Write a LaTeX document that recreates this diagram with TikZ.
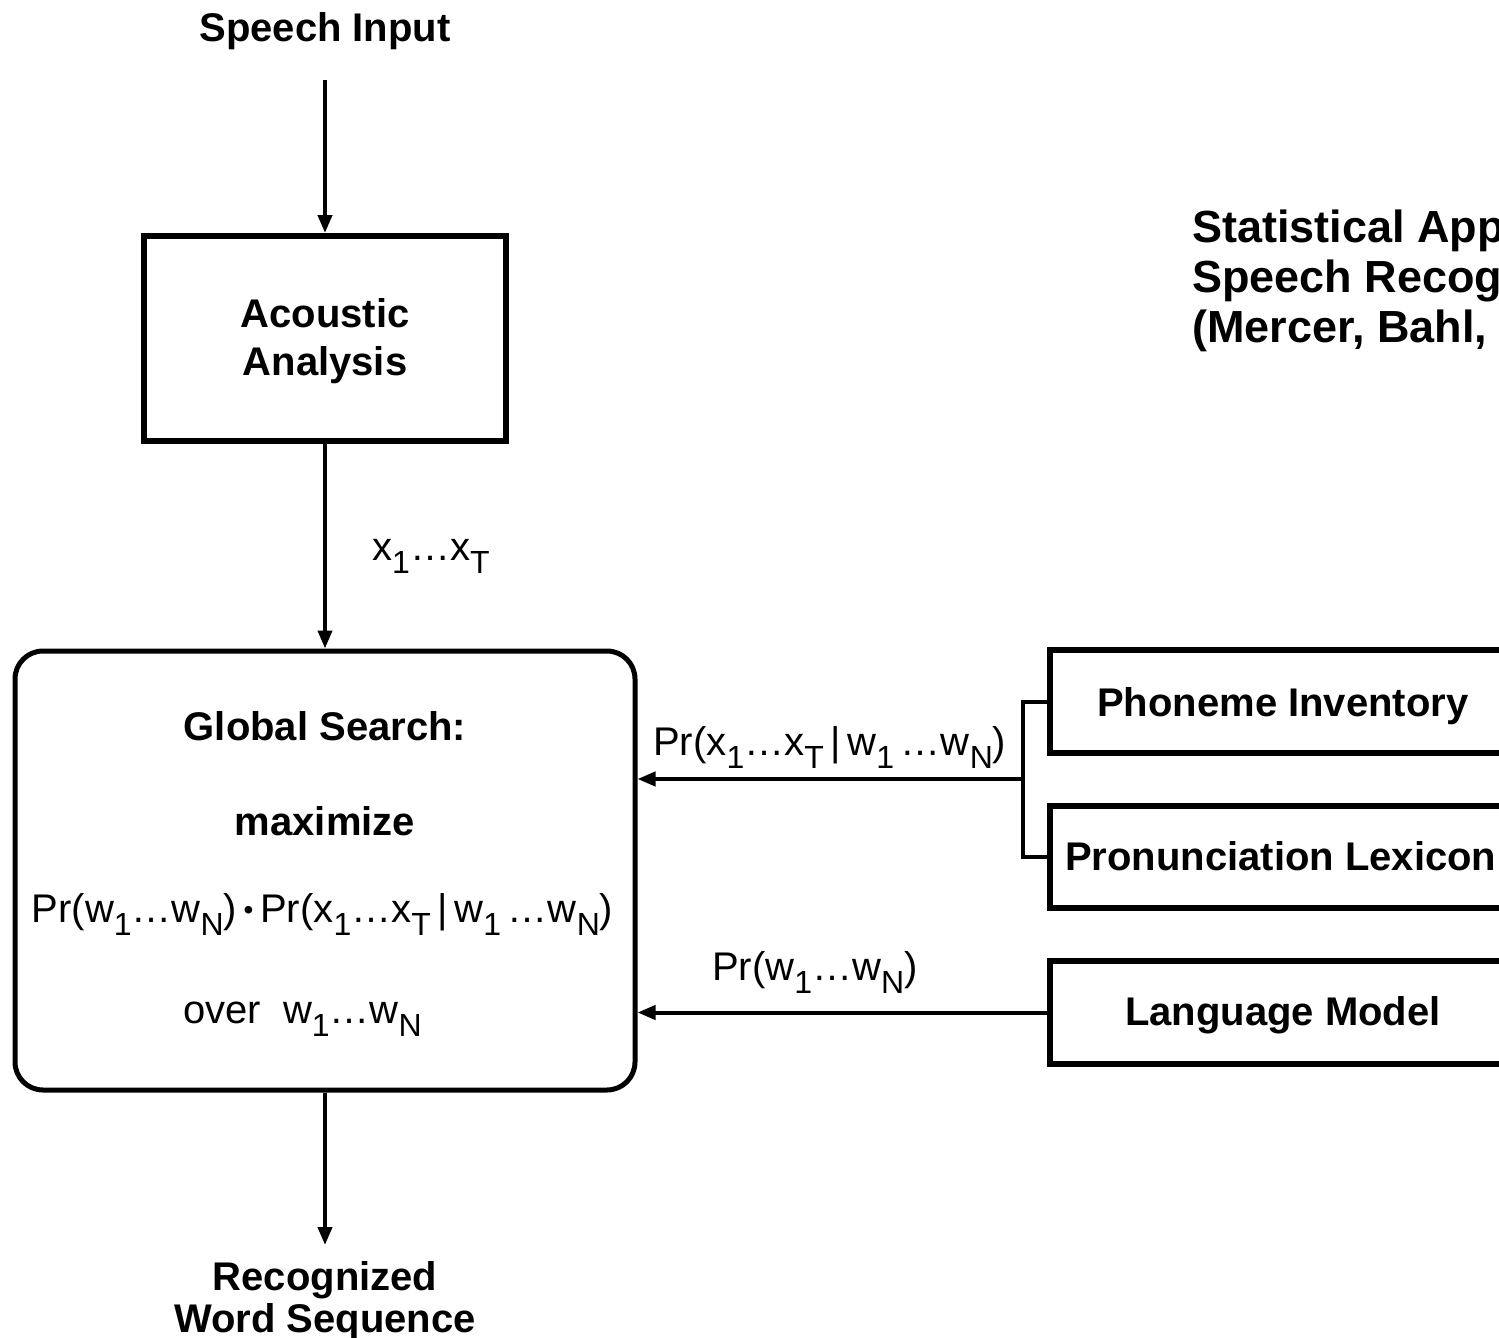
\documentclass[tikz,border=0pt]{standalone}
\usepackage{fontspec}
\setmainfont{Liberation Sans}
\usetikzlibrary{arrows.meta}
\newcommand{\sbx}[1]{\raisebox{-13pt}{\fontsize{32}{32}\selectfont #1}}
\begin{document}
\begin{tikzpicture}[x=1pt,y=-1pt,
  sbox/.style={draw, line width=6pt, inner sep=0pt},
  rbox/.style={draw, line width=5pt, rounded corners=28pt, inner sep=0pt},
  conn/.style={line width=4pt},
  arr/.style={line width=4pt, -{Triangle[length=18pt,width=14pt]}},
  bl/.style={inner sep=0pt, font=\fontsize{40}{48}\selectfont\bfseries},
  rl/.style={inner sep=0pt, font=\fontsize{40}{48}\selectfont},
  tl/.style={inner sep=0pt, anchor=base west, font=\fontsize{45}{52}\selectfont\bfseries}]
\useasboundingbox (0,0) rectangle (1499,1338);
\clip (0,0) rectangle (1499,1338);
% boxes
\node[sbox, minimum width=362pt, minimum height=205pt] (ac) at (325,338.5) {};
\node[rbox, minimum width=620pt, minimum height=439pt] (gs) at (325,870.5) {};
\node[sbox, minimum width=510pt, minimum height=103pt] (pi) at (1305,701.5) {};
\node[sbox, minimum width=510pt, minimum height=102pt] (pl) at (1305,857) {};
\node[sbox, minimum width=510pt, minimum height=103pt] (lm) at (1305,1012.5) {};
% texts
\node[bl, anchor=base] (tsi) at (325,42) {Speech Input};
\node[bl, anchor=base] (tac1) at (325,327) {Acoustic};
\node[bl, anchor=base] (tac2) at (325,375) {Analysis};
\node[rl, anchor=base west] (txt) at (372,560) {x\sbx{1}…x\sbx{T}};
\node[bl, anchor=base] (tgs) at (325,740) {Global Search:};
\node[bl, anchor=base] (tmax) at (325,835) {maximize};
\node[rl, anchor=base] (tform) at (322.5,922) {Pr(w\sbx{1}…w\sbx{N})\,{\fontsize{28}{28}\selectfont\raisebox{3pt}{•}}\,Pr(x\sbx{1}…x\sbx{T}\,|\,w\sbx{1}\,…w\sbx{N})};
\node[rl, anchor=base west] (tover) at (183,1023) {over\hspace{22pt}w\sbx{1}…w\sbx{N}};
\node[bl, anchor=base] (trw1) at (325,1290) {Recognized};
\node[bl, anchor=base] (trw2) at (325,1332) {Word Sequence};
\node[rl, anchor=base west] (tpx) at (653,755) {Pr(x\sbx{1}…x\sbx{T}\,|\,w\sbx{1}\,…w\sbx{N})};
\node[rl, anchor=base west] (tpw) at (712,980) {Pr(w\sbx{1}…w\sbx{N})};
\node[bl, anchor=base west] (tpi) at (1097,716) {Phoneme Inventory};
\node[bl, anchor=base west] (tpl) at (1065,870) {Pronunciation Lexicon};
\node[bl, anchor=base west] (tlm) at (1125,1025) {Language Model};
\node[tl] (tt1) at (1192,242) {Statistical App};
\node[tl] (tt2) at (1192,292) {Speech Recog};
\node[tl] (tt3) at (1192,342) {(Mercer, Bahl,};
% connectors
\coordinate (si0) at (325,80);
\coordinate (rw0) at (325,1245);
\coordinate (bt) at (1023,701.5);
\coordinate (bb) at (1023,857);
\coordinate (br) at (1023,779);
\draw[arr] (si0) -- (ac.north);
\draw[arr] (ac.south) -- (gs.north);
\draw[arr] (gs.south) -- (rw0);
\draw[conn] (pi.west) -- (bt) -- (bb) -- (pl.west);
\draw[arr] (br) -- (br -| gs.east);
\draw[arr] (lm.west) -- (lm.west -| gs.east);
\end{tikzpicture}
\end{document}
